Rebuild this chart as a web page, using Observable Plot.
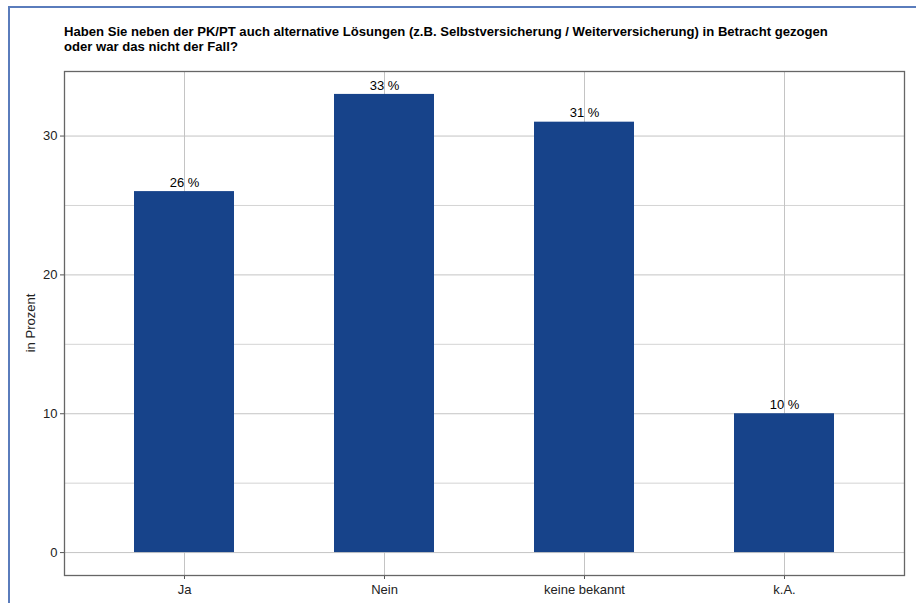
<!DOCTYPE html>
<html>
<head>
<meta charset="utf-8">
<script src="https://cdn.jsdelivr.net/npm/d3@7"></script>
<script src="https://cdn.jsdelivr.net/npm/@observablehq/plot@0.6"></script>
<style>
  html, body { margin: 0; padding: 0; background: #fff; }
  #wrap { position: relative; width: 916px; height: 603px; overflow: hidden; font-family: "Liberation Sans", Arial, sans-serif; }
  #border { position: absolute; left: 8px; top: 6px; width: 1000px; height: 1000px; border-left: 2px solid #5a7cbc; border-top: 2px solid #5a7cbc; }
  #title { position: absolute; left: 64px; top: 24px; font-size: 13.1px; font-weight: bold; line-height: 15px; color: #000; }
  #chart { position: absolute; left: 0; top: 0; }
</style>
</head>
<body>
<div id="wrap">
  <div id="border"></div>
  <div id="chart"></div>
  <div id="title">Haben Sie neben der PK/PT auch alternative Lösungen (z.B. Selbstversicherung / Weiterversicherung) in Betracht gezogen<br>oder war das nicht der Fall?</div>
</div>
<script>
const categories = ["Ja", "Nein", "keine bekannt", "k.A."];
const values = [26, 33, 31, 10];
const yTicks = [0, 10, 20, 30];
const yMinor = [5, 15, 25];

const data = categories.map((c, i) => ({cat: c, v: values[i], label: values[i] + " %"}));

const plot = Plot.plot({
  width: 916,
  height: 603,
  marginLeft: 64,
  marginRight: 12,
  marginTop: 71,
  marginBottom: 28,
  style: {fontFamily: "Liberation Sans, Arial, sans-serif", fontSize: "13px", color: "#000", background: "transparent"},
  x: {domain: categories, paddingInner: 0.5, paddingOuter: 0.35, label: null, tickSize: 0},
  y: {domain: [-1.65, 34.65], label: null, ticks: yTicks},
  marks: [
    Plot.ruleY(yMinor, {stroke: "#d4d4d4", strokeWidth: 1}),
    Plot.ruleY(yTicks, {stroke: "#c4c4c4", strokeWidth: 1}),
    Plot.gridX(categories, {stroke: "#c4c4c4", strokeOpacity: 1, strokeWidth: 1}),
    Plot.barY(data, {x: "cat", y: "v", fill: "#17438a"}),
    Plot.text(data, {x: "cat", y: "v", text: "label", dy: -9, fontSize: 13, fill: "#000"}),
    Plot.axisY(yTicks, {tickSize: 4, tickPadding: 3, stroke: "#555", fontSize: 13, fill: "#222", label: null}),
    Plot.axisX(categories, {tickSize: 4, tickPadding: 5, stroke: "#555", fontSize: 13, fill: "#222", label: null}),
    Plot.frame({stroke: "#666", strokeWidth: 1.3})
  ]
});
document.getElementById("chart").appendChild(plot);

const svg = d3.select(plot);
svg.append("text")
  .attr("transform", "translate(32,323) rotate(-90)")
  .attr("text-anchor", "middle")
  .attr("dominant-baseline", "middle")
  .attr("font-size", 13)
  .attr("fill", "#222")
  .text("in Prozent");
</script>
</body>
</html>
